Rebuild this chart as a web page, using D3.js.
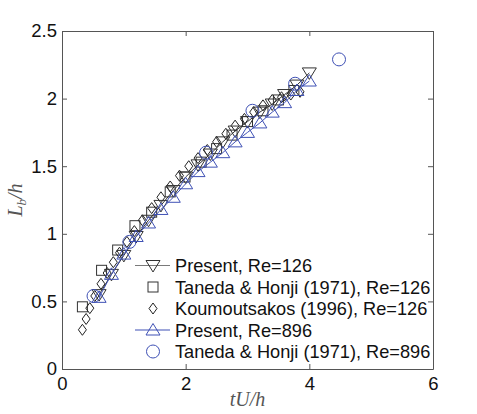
<!DOCTYPE html>
<html><head><meta charset="utf-8">
<script src="https://cdn.jsdelivr.net/npm/d3@7"></script>
<style>body{margin:0;background:#fff}svg{display:block}</style>
</head><body><svg id="c" width="477" height="414"></svg>
<script>
// ---- data ----
const present126T = [0.6,0.8,1.0,1.2,1.4,1.6,1.8,2.0,2.2,2.4,2.6,2.8,3.0,3.2,3.4,3.6,3.8,4.0];
const present126L = [0.55,0.70,0.84,0.98,1.10,1.21,1.32,1.42,1.51,1.59,1.68,1.76,1.83,1.90,1.96,2.03,2.10,2.19];
const taneda126T = [0.33,0.64,0.90,1.18,1.45,1.75,1.99,2.25,2.50,2.75,3.00,3.25,3.50,3.75];
const taneda126L = [0.46,0.73,0.88,1.06,1.16,1.31,1.42,1.53,1.63,1.73,1.83,1.91,1.99,2.06];
const kouT = [0.33,0.39,0.45,0.53,0.63,0.73,0.83,0.93,1.05,1.17,1.30,1.45,1.60,1.75,1.90,2.05,2.20,2.35,2.50,2.65,2.80,2.95,3.10,3.25,3.40,3.55,3.70,3.85];
const kouL = [0.29,0.37,0.45,0.54,0.63,0.71,0.79,0.86,0.94,1.02,1.10,1.19,1.27,1.35,1.43,1.50,1.56,1.62,1.68,1.74,1.80,1.85,1.90,1.95,1.99,2.01,2.03,2.05];
const present896T = [0.6,0.8,1.0,1.2,1.4,1.6,1.8,2.0,2.2,2.4,2.6,2.8,3.0,3.2,3.4,3.6,3.8,4.0];
const present896L = [0.53,0.70,0.85,0.98,1.08,1.18,1.27,1.37,1.46,1.53,1.60,1.68,1.75,1.82,1.90,1.97,2.06,2.13];
const taneda896T = [0.51,1.09,2.33,3.08,3.77,4.48];
const taneda896L = [0.54,0.94,1.60,1.91,2.11,2.29];
const xTicks = [0,2,4,6];
const yTicks = [0,0.5,1,1.5,2,2.5];
const legendLabels = ["Present, Re=126","Taneda & Honji (1971), Re=126","Koumoutsakos (1996), Re=126","Present, Re=896","Taneda & Honji (1971), Re=896"];

// ---- layout ----
const svg = d3.select("#c");
const L = 62, R = 433, T = 31, B = 369;
const x = d3.scaleLinear().domain([0,6]).range([L,R]);
const y = d3.scaleLinear().domain([0,2.5]).range([B,T]);
const GREY = "#7a7a7a", BLUE = "#3f51b5", FRAME = "#555";

const zip = (a,b) => a.map((v,i)=>[v,b[i]]);

function marker(g, type, color){
  if(type==="down") return g.append("path").attr("d","M-7,-5L7,-5L0,6.5Z").attr("fill","none").attr("stroke",color).attr("stroke-width",1);
  if(type==="up") return g.append("path").attr("d","M-7,5L7,5L0,-6.5Z").attr("fill","none").attr("stroke",color).attr("stroke-width",1);
  if(type==="square") return g.append("rect").attr("x",-5).attr("y",-5).attr("width",10).attr("height",10).attr("fill","none").attr("stroke",color).attr("stroke-width",1);
  if(type==="diamond") return g.append("path").attr("d","M0,-5.5L4,0L0,5.5L-4,0Z").attr("fill","none").attr("stroke",color).attr("stroke-width",1);
  if(type==="circle") return g.append("circle").attr("r",6.5).attr("fill","none").attr("stroke",color).attr("stroke-width",1);
}
function scatter(pts, type, color){
  const g = svg.append("g");
  pts.forEach(p=>{
    const m = g.append("g").attr("transform",`translate(${x(p[0])},${y(p[1])})`);
    marker(m,type,color);
  });
}
const line = d3.line().x(d=>x(d[0])).y(d=>y(d[1]));

scatter(zip(taneda126T,taneda126L),"square","#333");
scatter(zip(kouT,kouL),"diamond","#222");
svg.append("path").datum(zip(present126T,present126L)).attr("d",line).attr("fill","none").attr("stroke","#333").attr("stroke-width",1);
scatter(zip(present126T,present126L),"down","#333");
svg.append("path").datum(zip(present896T,present896L)).attr("d",line).attr("fill","none").attr("stroke",BLUE).attr("stroke-width",1);
scatter(zip(present896T,present896L),"up",BLUE);
scatter(zip(taneda896T,taneda896L),"circle",BLUE);

const fontT = "'Liberation Sans', Arial, sans-serif";
const xa = svg.append("g").attr("transform",`translate(0,${B})`)
  .call(d3.axisBottom(x).tickValues(xTicks).tickFormat(d3.format("d")).tickSizeInner(-5).tickSizeOuter(0).tickPadding(8));
const xt = svg.append("g").attr("transform",`translate(0,${T})`)
  .call(d3.axisTop(x).tickValues(xTicks).tickFormat("").tickSizeInner(-5).tickSizeOuter(0));
const ya = svg.append("g").attr("transform",`translate(${L},0)`)
  .call(d3.axisLeft(y).tickValues(yTicks).tickFormat(d=>String(d)).tickSizeInner(-5).tickSizeOuter(0).tickPadding(5));
const yr = svg.append("g").attr("transform",`translate(${R},0)`)
  .call(d3.axisRight(y).tickValues(yTicks).tickFormat("").tickSizeInner(-5).tickSizeOuter(0));
[xa,xt,ya,yr].forEach(a=>{
  a.select(".domain").attr("stroke",FRAME);
  a.selectAll(".tick line").attr("stroke",FRAME);
  a.selectAll("text").attr("font-family",fontT).attr("font-size",18.5).attr("fill","#111");
});

svg.append("text").attr("x",(L+R)/2).attr("y",406).attr("text-anchor","middle")
  .attr("font-family","'Liberation Serif', 'DejaVu Serif', serif").attr("font-style","italic").attr("font-size",20).attr("fill","#555")
  .text("tU/h");
const yl = svg.append("text").attr("transform",`translate(22,${(T+B)/2}) rotate(-90)`).attr("text-anchor","middle")
  .attr("font-family","'Liberation Serif', 'DejaVu Serif', serif").attr("font-style","italic").attr("font-size",20).attr("fill","#555");
yl.append("tspan").text("L");
yl.append("tspan").attr("font-size",13).attr("dy",4).text("b");
yl.append("tspan").attr("dy",-4).text("/h");

const legTypes = ["down","square","diamond","up","circle"];
const legColors = ["#333","#333","#222",BLUE,BLUE];
const legLines = [true,false,false,true,false];
const leg = svg.append("g");
legendLabels.forEach((lab,i)=>{
  const cy = 265.5 + i*21.5;
  if(legLines[i]) leg.append("line").attr("x1",135).attr("x2",170).attr("y1",cy).attr("y2",cy).attr("stroke",i===0?GREY:BLUE).attr("stroke-width",1.2);
  const m = leg.append("g").attr("transform",`translate(153,${cy})`);
  marker(m,legTypes[i],legColors[i]);
  leg.append("text").attr("x",175).attr("y",cy).attr("dy","0.36em").attr("font-family",fontT).attr("font-size",18.2).attr("fill","#111").text(lab);
});
</script></body></html>
